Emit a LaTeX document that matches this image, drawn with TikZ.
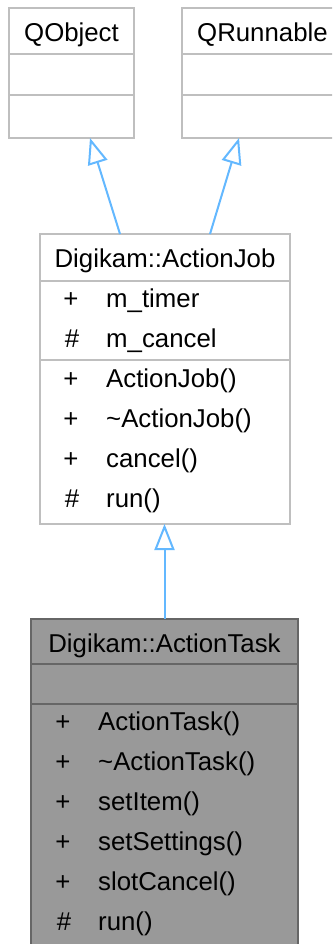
\documentclass[tikz,border=0pt]{standalone}
\usepackage{fontspec}
\setmainfont{Liberation Sans}
\usetikzlibrary{arrows.meta}
\definecolor{lgray}{HTML}{BFBFBF}
\definecolor{dgray}{HTML}{666666}
\definecolor{mgray}{HTML}{999999}
\definecolor{arrowblue}{HTML}{63B8FF}
\begin{document}
\begin{tikzpicture}[x=1pt,y=-1pt,
  box/.style={draw=lgray, line width=2pt, fill=white, inner sep=0pt, outer sep=0pt},
  dbox/.style={draw=dgray, fill=mgray, line width=2pt, inner sep=0pt, outer sep=0pt},
  txt/.style={anchor=base, inner sep=0pt, font=\fontsize{25.8}{30}\selectfont},
  ltxt/.style={txt, anchor=base west},
  ldiv/.style={draw=lgray, line width=2pt},
  ddiv/.style={draw=dgray, line width=2pt},
  inh/.style={draw=arrowblue, line width=2pt, -{Triangle[open, length=26pt, width=20pt, fill=white]}}]
\useasboundingbox (0,0) rectangle (332,944);
\clip (0,0) rectangle (332,944);
\fill[white] (0,0) rectangle (332,944);

% QObject
\node[box, minimum width=125pt, minimum height=130pt] (qo) at (71.5,73) {};
\draw[ldiv] (qo.west |- 0,54) -- (qo.east |- 0,54);
\draw[ldiv] (qo.west |- 0,95) -- (qo.east |- 0,95);
\node[txt] (qot) at (71.5,42) {QObject};

% QRunnable
\node[box, minimum width=161pt, minimum height=130pt] (qr) at (262.5,73) {};
\draw[ldiv] (qr.west |- 0,54) -- (qr.east |- 0,54);
\draw[ldiv] (qr.west |- 0,95) -- (qr.east |- 0,95);
\node[ltxt] (qrt) at (197,42) {QRunnable};

% Digikam::ActionJob
\node[box, minimum width=250pt, minimum height=290pt] (aj) at (165,379) {};
\draw[ldiv] (aj.west |- 0,281) -- (aj.east |- 0,281);
\draw[ldiv] (aj.west |- 0,360) -- (aj.east |- 0,360);
\node[txt] (ajt) at (165,267) {Digikam::ActionJob};
\node[txt] (ajs1) at (71,307) {+};
\node[ltxt] (aja1) at (106,307) {m\_timer};
\node[txt] (ajs2) at (72,347) {\#};
\node[ltxt] (aja2) at (106,347) {m\_cancel};
\node[txt] (ajs3) at (71,387) {+};
\node[ltxt] (ajm1) at (106,387) {ActionJob()};
\node[txt] (ajs4) at (71,427) {+};
\node[ltxt] (ajm2) at (106,427) {\textasciitilde ActionJob()};
\node[txt] (ajs5) at (71,467) {+};
\node[ltxt] (ajm3) at (106,467) {cancel()};
\node[txt] (ajs6) at (72,507) {\#};
\node[ltxt] (ajm4) at (106,507) {run()};

% Digikam::ActionTask
\node[dbox, minimum width=267pt, minimum height=362pt] (at) at (164.5,800) {};
\draw[ddiv] (at.west |- 0,664) -- (at.east |- 0,664);
\draw[ddiv] (at.west |- 0,704) -- (at.east |- 0,704);
\node[txt] (att) at (164.5,652) {Digikam::ActionTask};
\node[txt] (ats1) at (63,730) {+};
\node[ltxt] (atm1) at (98,730) {ActionTask()};
\node[txt] (ats2) at (63,770) {+};
\node[ltxt] (atm2) at (98,770) {\textasciitilde ActionTask()};
\node[txt] (ats3) at (63,810) {+};
\node[ltxt] (atm3) at (98,810) {setItem()};
\node[txt] (ats4) at (63,850) {+};
\node[ltxt] (atm4) at (98,850) {setSettings()};
\node[txt] (ats5) at (63,890) {+};
\node[ltxt] (atm5) at (98,890) {slotCancel()};
\node[txt] (ats6) at (64,930) {\#};
\node[ltxt] (atm6) at (98,930) {run()};

% inheritance
\draw[inh] ([xshift=-45pt]aj.north) -- ([xshift=18.5pt]qo.south);
\draw[inh] ([xshift=45pt]aj.north) -- ([xshift=-23.5pt]qr.south);
\draw[inh] (at.north) -- (at.north |- aj.south);
\end{tikzpicture}
\end{document}
